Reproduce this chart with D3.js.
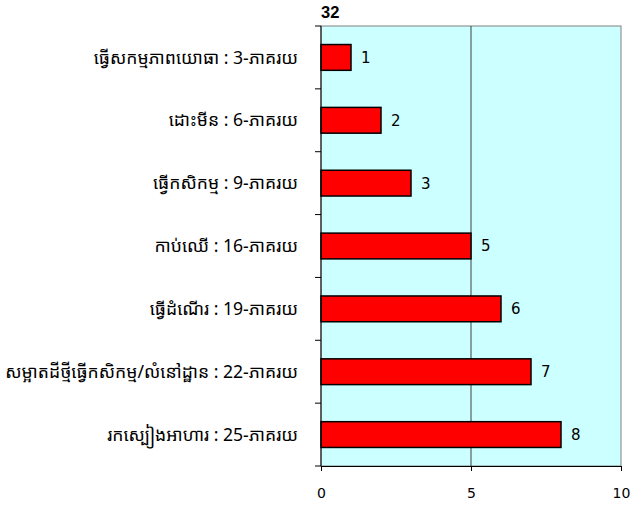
<!DOCTYPE html>
<meta charset="utf-8">
<script src="https://d3js.org/d3.v7.min.js"></script>
<style>
  body { margin: 0; background: #fff; }
  .cat { font-family: "Noto Sans Khmer", "Khmer OS", "DejaVu Sans", sans-serif; }
  .num { font-family: "DejaVu Sans", Verdana, sans-serif; }
</style>
<svg width="631" height="508"></svg>
<script>
// data
var categories = [
  "ធ្វើសកម្មភាពយោធា : 3-ភាគរយ",
  "ដោះមីន : 6-ភាគរយ",
  "ធ្វើកសិកម្ម : 9-ភាគរយ",
  "កាប់ឈើ : 16-ភាគរយ",
  "ធ្វើដំណើរ : 19-ភាគរយ",
  "សម្អាតដីថ្មីធ្វើកសិកម្ម/លំនៅដ្ឋាន : 22-ភាគរយ",
  "រកស្បៀងអាហារ : 25-ភាគរយ"
];
var values = [1, 2, 3, 5, 6, 7, 8];
var xTicks = [0, 5, 10];
var title = "32";

var svg = d3.select("svg"),
    margin = { top: 26, right: 10, bottom: 42, left: 321 },
    width = +svg.attr("width") - margin.left - margin.right,
    height = +svg.attr("height") - margin.top - margin.bottom,
    g = svg.append("g").attr("transform", "translate(" + margin.left + "," + margin.top + ")");

var x = d3.scaleLinear().domain([0, 10]).range([0, width]);
var y = d3.scaleBand().domain(categories).range([0, height]).paddingInner(0.59).paddingOuter(0.295);

// plot background
g.append("rect")
  .attr("width", width)
  .attr("height", height)
  .attr("fill", "#ccffff")
  .attr("stroke", "#808080")
  .attr("stroke-width", 1);

// grid line
g.append("g")
  .selectAll("line")
  .data(xTicks.slice(1, -1))
  .enter().append("line")
  .attr("x1", function (d) { return x(d); })
  .attr("x2", function (d) { return x(d); })
  .attr("y1", 0)
  .attr("y2", height)
  .attr("stroke", "#404040");

// bars
g.append("g")
  .selectAll("rect")
  .data(values)
  .enter().append("rect")
  .attr("x", x(0))
  .attr("y", function (d, i) { return y(categories[i]); })
  .attr("width", function (d) { return x(d) - x(0); })
  .attr("height", y.bandwidth())
  .attr("fill", "#ff0000")
  .attr("stroke", "#000")
  .attr("stroke-width", 1.5);

// value labels
g.append("g")
  .selectAll("text")
  .data(values)
  .enter().append("text")
  .attr("class", "num")
  .attr("x", function (d) { return x(d) + 10; })
  .attr("y", function (d, i) { return y(categories[i]) + y.bandwidth() / 2; })
  .attr("dy", "0.36em")
  .style("font-size", "15px")
  .attr("fill", "#000")
  .text(function (d) { return d; });

// x axis
var xAxis = g.append("g")
  .attr("transform", "translate(0," + height + ")")
  .call(d3.axisBottom(x).tickValues(xTicks).tickSize(5).tickPadding(17));
xAxis.select(".domain").attr("stroke", "#000");
xAxis.selectAll("text").attr("class", "num").style("font-size", "14px").attr("fill", "#000");

// y axis: ticks on band boundaries
var boundaries = d3.range(categories.length + 1).map(function (i) { return i * height / categories.length; });
g.append("line")
  .attr("x1", 0).attr("x2", 0).attr("y1", 0).attr("y2", height)
  .attr("stroke", "#000");
g.append("g")
  .selectAll("line")
  .data(boundaries)
  .enter().append("line")
  .attr("x1", -6).attr("x2", 0)
  .attr("y1", function (d) { return d; })
  .attr("y2", function (d) { return d; })
  .attr("stroke", "#000");

// category labels
g.append("g")
  .selectAll("text")
  .data(categories)
  .enter().append("text")
  .attr("class", "cat")
  .attr("x", -23)
  .attr("y", function (d) { return y(d) + y.bandwidth() / 2; })
  .attr("dy", "0.35em")
  .attr("text-anchor", "end")
  .style("font-size", "17.6px")
  .attr("fill", "#000")
  .text(function (d) { return d; });

// title
svg.append("text")
  .attr("x", margin.left)
  .attr("y", 18)
  .attr("font-size", 16.5)
  .style("font-size", "16.5px")
  .attr("font-weight", "bold")
  .style("font-family", "Arial, 'Liberation Sans', sans-serif")
  .text(title);
</script>
